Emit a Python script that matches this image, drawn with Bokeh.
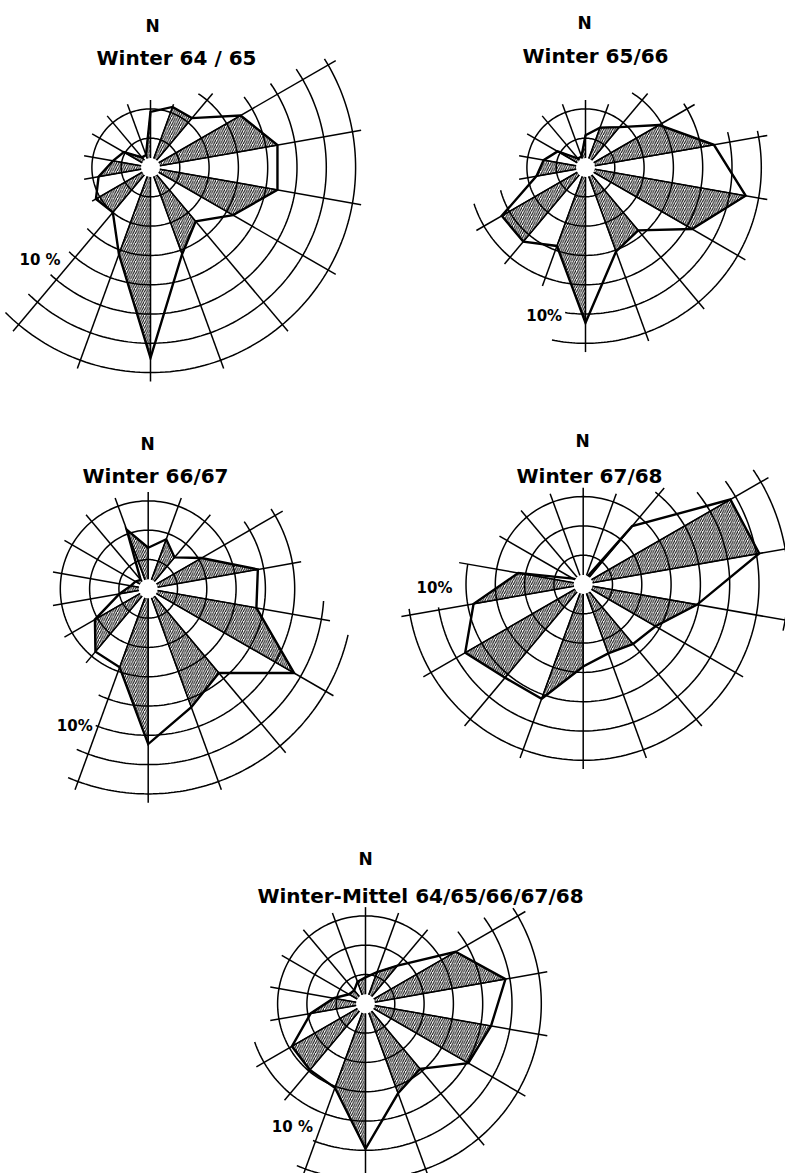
import numpy as np
from bokeh.plotting import figure
from bokeh.models import Range1d, ColumnDataSource
from bokeh.embed import file_html
from bokeh.resources import INLINE
from bokeh.core.properties import value

# ---------------- data (frequency in %, directions clockwise from N) ----------------
directions = list(range(0, 360, 20))

winter_64_65 = [3.8, 4.4, 4.4, 7.1, 8.8, 8.8, 6.5, 4.8, 6.3, 13.0, 6.3, 4.0, 4.3, 3.6, 2.6, 2.1, 0.9, 0.9]
winter_65_66 = [2.2, 2.9, 3.6, 5.8, 8.9, 11.1, 8.4, 5.6, 6.1, 10.6, 5.7, 6.6, 6.6, 3.4, 2.9, 2.2, 0.8, 0.8]
winter_66_67 = [2.8, 3.6, 2.8, 4.2, 7.6, 7.5, 11.5, 7.5, 8.6, 10.6, 5.7, 5.6, 4.2, 2.0, 1.2, 1.0, 0.8, 4.3]
winter_67_68 = [0.3, 0.4, 5.2, 11.6, 12.2, 7.9, 5.7, 5.3, 5.0, 5.6, 8.3, 8.3, 9.3, 7.6, 4.5, 0.8, 0.4, 0.3]
winter_mean = [1.8, 2.3, 3.4, 7.1, 9.7, 8.7, 8.1, 5.8, 6.5, 9.9, 6.1, 5.9, 5.8, 3.8, 2.2, 1.3, 1.2, 1.6]

titles = ["Winter 64 / 65", "Winter 65/66", "Winter 66/67", "Winter 67/68",
          "Winter-Mittel 64/65/66/67/68"]
north_label = "N"
pct_labels = ["10 %", "10%", "10%", "10%", "10 %"]
ring_step_pct = 2.0      # one ring = 2 %
label_ring = 5           # ring carrying the 10 % label
hatched_sectors = [20, 60, 100, 140, 180, 220, 260, 300, 340]  # sector start angles

# ---------------- layout / style ----------------
PX_PER_PCT = 14.65
RING_PX = ring_step_pct * PX_PER_PCT
CENTER_R = 9.5
SPOKE_OVER = 0.3

layout = [
    dict(values=winter_64_65, cx=150.0, cy=167.0, full=2,
         arcs=[(3, 33, 226), (4, 53, 224), (5, 55, 223), (6, 56, 224), (7, 58, 225)],
         n_xy=(152, 25), t_xy=(176, 57), lbl=(10, -6, "right", "bottom")),
    dict(values=winter_65_66, cx=585.0, cy=167.0, full=2,
         arcs=[(3, 32, 255), (4, 57, 252), (5, 76, 188), (6, 78, 191)],
         n_xy=(584, 22), t_xy=(595, 55), lbl=(-3, 3, "right", "middle")),
    dict(values=winter_66_67, cx=147.7, cy=588.3, full=3,
         arcs=[(4, 55, 205), (5, 57, 201), (6, 94, 204), (7, 103, 203)],
         n_xy=(147, 443), t_xy=(155, 475), lbl=(-3, 0, "right", "middle")),
    dict(values=winter_67_68, cx=582.7, cy=584.0, full=3,
         arcs=[(4, 38, 280), (5, 51, 261), (6, 54, 262), (7, 56, 103)],
         n_xy=(582, 440), t_xy=(589, 475), lbl=(14, -10, "right", "bottom")),
    dict(values=winter_mean, cx=365.0, cy=1003.3, full=3,
         arcs=[(4, 52, 251), (5, 54, 201), (6, 57, 203)],
         n_xy=(365, 858), t_xy=(420, 895), lbl=(0, -5, "right", "bottom")),
]

W, H = 785, 1173
p = figure(width=W, height=H, output_backend="svg", toolbar_location=None,
           x_range=Range1d(0, W), y_range=Range1d(H, 0),
           x_axis_location=None, y_axis_location=None, min_border=0)
p.grid.visible = False
p.outline_line_color = None
p.background_fill_color = "white"
p.border_fill_color = "white"


def pol(cx, cy, ang_deg, r):
    a = np.radians(ang_deg)
    return cx + r * np.sin(a), cy - r * np.cos(a)


grid_xs, grid_ys = [], []
spoke_xs, spoke_ys = [], []
hatch_xs, hatch_ys = [], []
out_xs, out_ys = [], []
ctr_x, ctr_y = [], []
txt = dict(x=[], y=[], text=[], size=[], align=[], base=[])

for i, L in enumerate(layout):
    cx, cy = L["cx"], L["cy"]
    vals = np.array(L["values"])
    r_px = vals * PX_PER_PCT
    # rings
    for k in range(1, L["full"] + 1):
        a = np.linspace(0, 360, 181)
        x, y = pol(cx, cy, a, k * RING_PX)
        grid_xs.append(list(x)); grid_ys.append(list(y))
    for (k, a0, a1) in L["arcs"]:
        a = np.linspace(a0, a1, 120)
        x, y = pol(cx, cy, a, k * RING_PX)
        grid_xs.append(list(x)); grid_ys.append(list(y))
    # spokes
    for d in directions:
        kmax = L["full"]
        for (k, a0, a1) in L["arcs"]:
            if a0 <= d <= a1:
                kmax = max(kmax, k)
        r_end = (kmax + SPOKE_OVER) * RING_PX
        x0, y0 = pol(cx, cy, d, CENTER_R)
        x1, y1 = pol(cx, cy, d, r_end)
        spoke_xs.append([x0, x1]); spoke_ys.append([y0, y1])
    # hatched wedges
    for s in hatched_sectors:
        j0 = directions.index(s)
        j1 = (j0 + 1) % len(directions)
        xa, ya = pol(cx, cy, directions[j0], r_px[j0])
        xb, yb = pol(cx, cy, directions[j1], r_px[j1])
        hatch_xs.append([cx, xa, xb]); hatch_ys.append([cy, ya, yb])
    # outline
    ox, oy = pol(cx, cy, np.array(directions, dtype=float), r_px)
    out_xs.append(list(ox)); out_ys.append(list(oy))
    ctr_x.append(cx); ctr_y.append(cy)
    # texts
    txt["x"].append(L["n_xy"][0]); txt["y"].append(L["n_xy"][1]); txt["text"].append(north_label)
    txt["size"].append("17px"); txt["align"].append("center"); txt["base"].append("alphabetic")
    txt["x"].append(L["t_xy"][0]); txt["y"].append(L["t_xy"][1]); txt["text"].append(titles[i])
    txt["size"].append("20px"); txt["align"].append("center"); txt["base"].append("alphabetic")
    end_ang = [a1 for (k, a0, a1) in L["arcs"] if k == label_ring][0]
    lx, ly = pol(cx, cy, end_ang, label_ring * RING_PX)
    dx, dy, al, bl = L["lbl"]
    txt["x"].append(lx + dx); txt["y"].append(ly + dy); txt["text"].append(pct_labels[i])
    txt["size"].append("15px"); txt["align"].append(al); txt["base"].append(bl)

p.patches(hatch_xs, hatch_ys, fill_color=None, hatch_pattern="/", hatch_color="black",
          hatch_scale=4.5, hatch_weight=1.0, line_color="black", line_width=1.1)
p.multi_line(grid_xs, grid_ys, line_color="black", line_width=1.5)
p.multi_line(spoke_xs, spoke_ys, line_color="black", line_width=1.5)
p.patches(out_xs, out_ys, fill_color=None, line_color="black", line_width=2.4,
          line_join="miter")
p.scatter(ctr_x, ctr_y, marker="circle", size=2 * CENTER_R, fill_color="white",
          line_color=None)

src = ColumnDataSource(txt)
p.text(x="x", y="y", text="text", source=src, text_font=value("DejaVu Sans"),
       text_font_style="bold", text_font_size="size", text_align="align",
       text_baseline="base", text_color="black")

open("out.html", "w").write(file_html(p, INLINE))
